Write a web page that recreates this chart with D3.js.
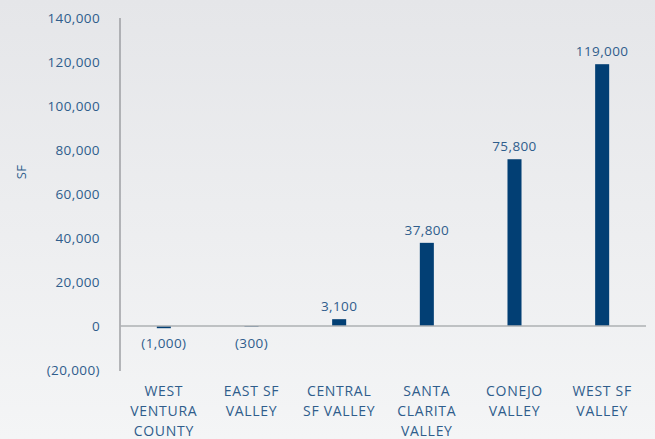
<!DOCTYPE html>
<html>
<head>
<meta charset="utf-8">
<script src="https://cdn.jsdelivr.net/npm/d3@7"></script>
<style>
  html, body { margin: 0; padding: 0; }
  body { width: 655px; height: 439px; overflow: hidden;
         background: linear-gradient(#e5e6e9, #f4f5f6); }
  svg text { font-family: "Open Sans", Lato, sans-serif; fill: #2f5d8c; letter-spacing: 0.4px; }
</style>
</head>
<body>
<div id="chart"></div>
<script>
const categories = [
    ['WEST', 'VENTURA', 'COUNTY'],
    ['EAST SF', 'VALLEY'],
    ['CENTRAL', 'SF VALLEY'],
    ['SANTA', 'CLARITA', 'VALLEY'],
    ['CONEJO', 'VALLEY'],
    ['WEST SF', 'VALLEY']
];
const values = [-1000, -300, 3100, 37800, 75800, 119000];
const yTicks = [-20000, 0, 20000, 40000, 60000, 80000, 100000, 120000, 140000];

const width = 655, height = 439;
const margin = { top: 18, right: 9, bottom: 69, left: 120 };

const svg = d3.select('#chart')
    .append('svg')
    .attr('width', width)
    .attr('height', height);

const x = d3.scaleBand()
    .domain(d3.range(categories.length))
    .range([margin.left, width - margin.right])
    .paddingInner(0.84)
    .paddingOuter(0.42);

const y = d3.scaleLinear()
    .domain([-20000, 140000])
    .range([height - margin.bottom, margin.top]);

const fmt = v => v < 0 ? '(' + d3.format(',')(-v) + ')' : d3.format(',')(v);

// y axis labels
svg.selectAll('.ytick')
    .data(yTicks)
    .enter()
    .append('text')
    .attr('x', 100)
    .attr('y', d => y(d))
    .attr('dy', '0.35em')
    .attr('text-anchor', 'end')
    .style('font-size', '13.5px')
    .text(fmt);

svg.append('line')
    .attr('x1', margin.left).attr('x2', margin.left)
    .attr('y1', y(140000)).attr('y2', y(-20000) + 1)
    .attr('stroke', '#8a8c90')
    .attr('stroke-width', 1.2);

svg.append('text')
    .attr('transform', `translate(26,${y(70000)}) rotate(-90)`)
    .attr('text-anchor', 'middle')
    .style('font-size', '13px')
    .text('SF');

// bars
svg.selectAll('rect')
    .data(values)
    .enter()
    .append('rect')
    .attr('x', (d, i) => x(i))
    .attr('width', x.bandwidth())
    .attr('y', d => y(Math.max(0, d)))
    .attr('height', d => Math.abs(y(d) - y(0)))
    .attr('fill', '#023f74');

svg.append('line')
    .attr('x1', margin.left).attr('x2', 646)
    .attr('y1', y(0)).attr('y2', y(0))
    .attr('stroke', '#aeb0b3')
    .attr('stroke-width', 1.5);

// value labels
svg.selectAll('.val')
    .data(values)
    .enter()
    .append('text')
    .attr('x', (d, i) => x(i) + x.bandwidth() / 2)
    .attr('y', d => d >= 0 ? y(d) - 8 : y(0) + 22)
    .attr('text-anchor', 'middle')
    .style('font-size', '13.5px')
    .text(fmt);

// category labels
categories.forEach((lines, i) => {
    const t = svg.append('text')
        .attr('text-anchor', 'middle')
        .style('font-size', '14px')
        .style('letter-spacing', '0.7px');
    lines.forEach((s, j) => {
        t.append('tspan')
            .attr('x', x(i) + x.bandwidth() / 2)
            .attr('y', 396 + j * 20)
            .text(s);
    });
});
</script>
</body>
</html>
